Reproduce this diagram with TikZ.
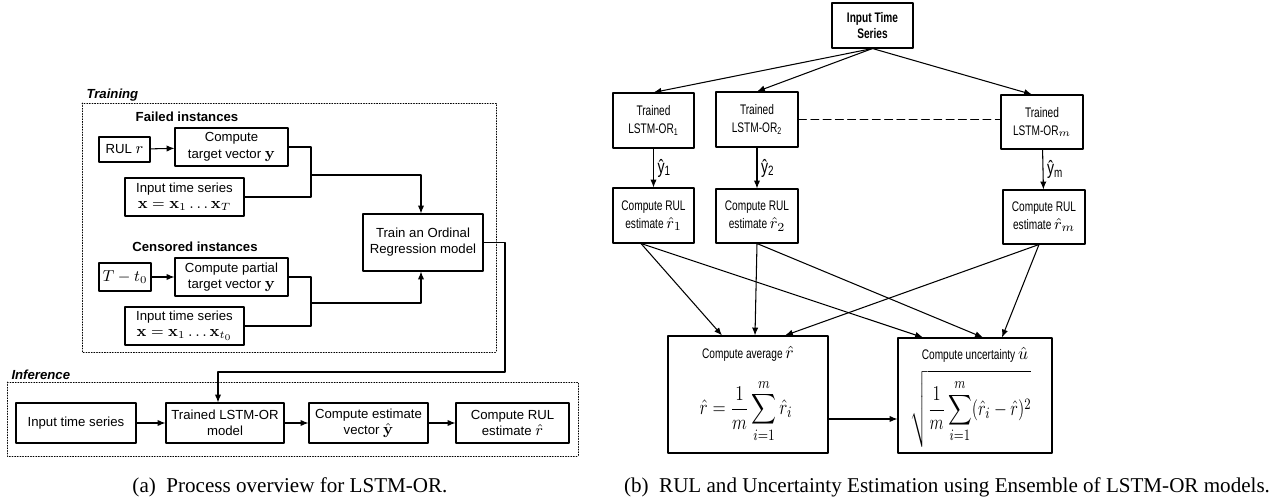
\documentclass[tikz,border=0pt]{standalone}
\usepackage[no-math]{fontspec}
\usepackage{amsmath,graphicx}
\usetikzlibrary{arrows.meta}
\newfontfamily\capfont{Liberation Serif}
\newfontfamily\lsans{Liberation Sans}
\newfontfamily\nsans[FakeStretch=0.73]{Liberation Sans}
\newcommand\mth[2]{{\fontsize{#1}{#1}\selectfont$#2$}}
\begin{document}
\begin{tikzpicture}[>={Latex[length=4.5pt,width=3.6pt]},line join=round,line cap=round,line width=.6pt,x=0.02cm,y=-0.02cm,
	wh/.style 2 args={minimum width=#1*0.02cm,minimum height=#2*0.02cm},
	abox/.style={draw,align=center,inner sep=1pt,font=\lsans\fontsize{7.5}{9.2}\selectfont},
	bbox/.style={draw,align=center,inner sep=1pt,font=\nsans\fontsize{7.9}{10.2}\selectfont},
	btxt/.style={align=center,inner sep=0pt,font=\nsans\fontsize{7.9}{10}\selectfont},
	grp/.style={draw,densely dotted,line width=.5pt},
	grplbl/.style={anchor=west,inner sep=0pt,font=\lsans\bfseries\itshape\fontsize{7.5}{9}\selectfont},
	sub/.style={inner sep=0pt,font=\lsans\bfseries\fontsize{7.5}{9}\selectfont},
	yh/.style={right,inner sep=2pt,font=\nsans\fontsize{11}{12}\selectfont},
	captxt/.style={inner sep=0pt,font=\capfont\fontsize{12}{14}\selectfont}]
	\useasboundingbox (0,0) rectangle (1279,502);
	\draw[grp] (82,103) rectangle (496,352);
	\node[grplbl] (trl) at (86,95) {Training};
	\node[sub] (fail) at (187,117) {Failed instances};
	\node[abox,wh={51}{25}] (rul) at (124.5,149.5) {RUL~\mth{9}{r}};
	\node[abox,wh={113}{38}] (tgt) at (231.5,147) {Compute\\target vector \mth{9}{\mathbf{y}}};
	\node[abox,wh={119}{38}] (inf) at (184.5,197) {Input time series\\\mth{9}{\mathbf{x}=\mathbf{x}_1\ldots\mathbf{x}_T}};
	\node[abox,wh={120}{57}] (train) at (423,242.5) {Train an Ordinal\\Regression model};
	\node[sub] (cens) at (195,247) {Censored instances};
	\node[abox,wh={52}{28}] (tt) at (125,277) {\mth{9}{T-t_0}};
	\node[abox,wh={113}{38}] (ptgt) at (231.5,277) {Compute partial\\target vector \mth{9}{\mathbf{y}}};
	\node[abox,wh={119}{38}] (inc) at (184.5,326) {Input time series\\\mth{9}{\mathbf{x}=\mathbf{x}_1\ldots\mathbf{x}_{t_0}}};
	\coordinate (jf) at (311,175);
	\coordinate (jc) at (311,303);
	\draw[->] (rul) -- (tgt);
	\draw[->] (tt) -- (ptgt);
	\draw (tgt.east) -| (jf) (inf.east) -| (jf);
	\draw (ptgt.east) -| (jc) (inc.east) -| (jc);
	\draw[->] (jf) -| ([xshift=-.04cm]train.north);
	\draw[->] (jc) -| ([xshift=-.04cm]train.south);
	\draw[grp] (7,382) rectangle (578,456);
	\node[grplbl] (infl) at (11,375) {Inference};
	\node[abox,wh={120}{40}] (ini) at (76,423) {Input time series};
	\node[abox,wh={118}{40}] (tlstm) at (225,423) {Trained LSTM-OR\\model};
	\node[abox,wh={119}{40}] (cev) at (368.5,423) {Compute estimate\\vector \mth{9}{\hat{\mathbf{y}}}};
	\node[abox,wh={113}{40}] (crul) at (512.5,423) {Compute RUL\\estimate \mth{9}{\hat{r}}};
	\draw[->] (ini) -- (tlstm);
	\draw[->] (tlstm) -- (cev);
	\draw[->] (cev) -- (crul);
	\coordinate (bend) at (505,372);
	\draw[->] (train.east) -| (bend) -| ([xshift=-.14cm]tlstm.north);
	\node[captxt] (capa) at (290,487) {(a)\enspace Process overview for LSTM-OR.};
	\node[bbox,font=\nsans\bfseries\fontsize{7.9}{9.4}\selectfont,wh={81}{45}] (its) at (872.5,25.5) {Input Time\\Series};
	\node[bbox,wh={81}{55}] (l1) at (653.5,120.5) {Trained\\LSTM-OR\textsubscript{1}};
	\node[bbox,wh={82}{55}] (l2) at (757,119.5) {Trained\\LSTM-OR\textsubscript{2}};
	\node[bbox,wh={82}{54}] (lm) at (1042,122) {Trained\\LSTM-OR$_m$};
	\node[bbox,wh={81}{55}] (r1) at (653.5,215.5) {Compute RUL\\estimate \mth{9.5}{\hat{r}_1}};
	\node[bbox,wh={82}{54}] (r2) at (757,216) {Compute RUL\\estimate \mth{9.5}{\hat{r}_2}};
	\node[bbox,wh={82}{54}] (rm) at (1044,217) {Compute RUL\\estimate \mth{9.5}{\hat{r}_m}};
	\draw[->] (its.south) -- (l1.north);
	\draw[->] (its.south) -- (l2.north);
	\draw[->] (its.south) -- ([xshift=-.2cm]lm.north);
	\draw[dash pattern=on 4.5pt off 2.5pt] (l2.east) -- (l2.east -| lm.west);
	\draw[->] (l1) -- node[yh] {ŷ$_{\text{1}}$} (r1);
	\draw[->] (l2) -- node[yh] {ŷ$_{\text{2}}$} (r2);
	\draw[->] (lm) -- node[yh] {ŷ$_{\text{m}}$} (rm);
	\node[bbox,wh={160}{117}] (avg) at (748,394.5) {};
	\node[btxt] (avgt) at (748,354) {Compute average \mth{10}{\hat{r}}};
	\node[btxt] (avgf) at (746,411) {\scalebox{.82}[1]{\mth{13}{\displaystyle\hat{r}=\frac{1}{m}\sum_{i=1}^{m}\hat{r}_i}}};
	\node[bbox,wh={154}{115}] (unc) at (975,395.5) {};
	\node[btxt] (unct) at (975,355) {Compute uncertainty \mth{10}{\hat{u}}};
	\node[btxt] (uncf) at (971,409) {\scalebox{.78}[1]{\mth{12.4}{\displaystyle\sqrt{\frac{1}{m}\sum_{i=1}^{m}(\hat{r}_i-\hat{r})^2}}}};
	\draw[->] ([xshift=-.25cm]r1.south) -- ([xshift=-.52cm]avg.north);
	\draw[->] ([xshift=-.25cm]r1.south) -- ([xshift=-1.04cm]unc.north);
	\draw[->] (r2.south) -- ([xshift=.14cm]avg.north);
	\draw[->] (r2.south) -- ([xshift=.16cm]unc.north);
	\draw[->] ([xshift=-.1cm]rm.south) -- ([xshift=.74cm]avg.north);
	\draw[->] ([xshift=-.1cm]rm.south) -- ([xshift=.54cm]unc.north);
	\draw[->] ([yshift=-.49cm]avg.east) -- ([yshift=-.49cm]avg.east -| unc.west);
	\node[captxt] (capb) at (947,487) {(b)\enspace RUL and Uncertainty Estimation using Ensemble of LSTM-OR models.};
\end{tikzpicture}
\end{document}
